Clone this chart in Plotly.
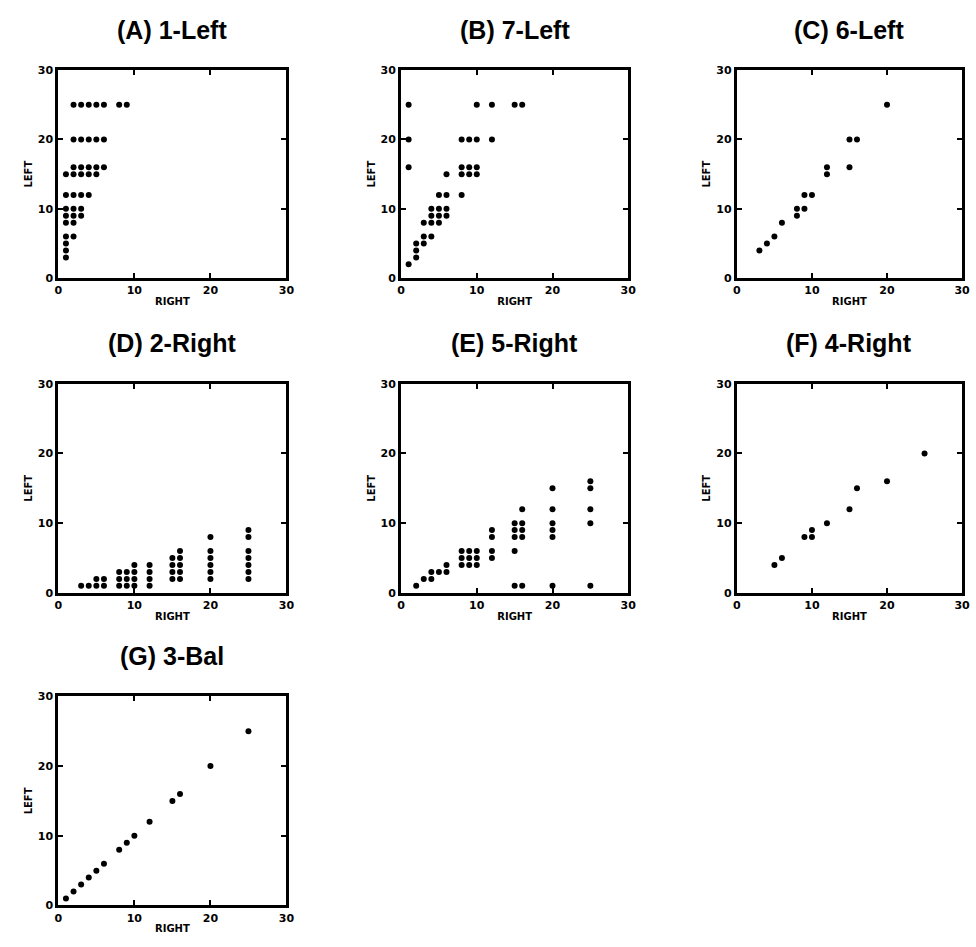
import plotly.graph_objects as go

# ---- data (RIGHT, LEFT) per panel ----
titles = ["(A) 1-Left", "(B) 7-Left", "(C) 6-Left", "(D) 2-Right",
          "(E) 5-Right", "(F) 4-Right", "(G) 3-Bal"]

right_A = [2, 3, 4, 5, 6, 8, 9,  2, 3, 4, 5, 6,  2, 3, 4, 5, 6,  1, 2, 3, 4, 5,
           1, 2, 3, 4,  1, 2, 3,  1, 2, 3,  1, 2,  1, 2,  1, 1, 1]
left_A = [25, 25, 25, 25, 25, 25, 25,  20, 20, 20, 20, 20,  16, 16, 16, 16, 16,
          15, 15, 15, 15, 15,  12, 12, 12, 12,  10, 10, 10,  9, 9, 9,  8, 8,
          6, 6,  5, 4, 3]

right_B = [1, 1, 1, 1, 2, 2, 2, 3, 3, 3, 4, 4, 4, 4, 5, 5, 5, 5, 6, 6, 6, 6,
           8, 8, 8, 8, 9, 9, 9, 10, 10, 10, 10, 12, 12, 15, 16]
left_B = [25, 20, 16, 2, 3, 4, 5, 8, 6, 5, 10, 9, 8, 6, 12, 10, 9, 8, 15, 12, 10, 9,
          20, 16, 15, 12, 20, 16, 15, 25, 20, 16, 15, 25, 20, 25, 25]

right_C = [3, 4, 5, 6, 8, 8, 9, 9, 10, 12, 12, 15, 16, 15, 20]
left_C = [4, 5, 6, 8, 10, 9, 12, 10, 12, 16, 15, 20, 20, 16, 25]

right_D = [3, 4, 5, 6, 5, 6, 8, 8, 8, 9, 9, 9, 10, 10, 10, 10, 12, 12, 12, 12,
           15, 15, 15, 15, 16, 16, 16, 16, 16, 20, 20, 20, 20, 20, 20,
           25, 25, 25, 25, 25, 25, 25]
left_D = [1, 1, 1, 1, 2, 2, 1, 2, 3, 1, 2, 3, 1, 2, 3, 4, 1, 2, 3, 4,
          2, 3, 4, 5, 2, 3, 4, 5, 6, 2, 3, 4, 5, 6, 8,
          2, 3, 4, 5, 6, 8, 9]

right_E = [2, 3, 4, 4, 5, 6, 6, 8, 8, 8, 9, 9, 9, 10, 10, 10, 12, 12, 12, 12,
           15, 15, 15, 15, 15, 16, 16, 16, 16, 16, 20, 20, 20, 20, 20, 20,
           25, 25, 25, 25, 25]
left_E = [1, 2, 2, 3, 3, 3, 4, 4, 5, 6, 4, 5, 6, 4, 5, 6, 5, 6, 8, 9,
          1, 6, 8, 9, 10, 1, 8, 9, 10, 12, 1, 8, 9, 10, 12, 15,
          1, 10, 12, 15, 16]

right_F = [5, 6, 9, 10, 10, 12, 15, 16, 20, 25]
left_F = [4, 5, 8, 8, 9, 10, 12, 15, 16, 20]

right_G = [1, 2, 3, 4, 5, 6, 8, 9, 10, 12, 15, 16, 20, 25]
left_G = [1, 2, 3, 4, 5, 6, 8, 9, 10, 12, 15, 16, 20, 25]

tick_vals = [0, 10, 20, 30]
tick_text = ["0", "10", "20", "30"]

panels = [(right_A, left_A), (right_B, left_B), (right_C, left_C),
          (right_D, left_D), (right_E, left_E), (right_F, left_F),
          (right_G, left_G)]

# ---- layout geometry (pixels) ----
W, H = 976, 947
cols = [(55, 286), (402, 632), (742, 970)]
rows = [(65, 276), (383, 595), (700, 912)]
pos = [(0, 0), (0, 1), (0, 2), (1, 0), (1, 1), (1, 2), (2, 0)]

fig = go.Figure()
layout = dict(width=W, height=H, margin=dict(l=0, r=0, t=0, b=0),
              paper_bgcolor="white", plot_bgcolor="white", showlegend=False,
              annotations=[])

tick_font = dict(family="DejaVu Sans", size=11, color="black", weight="bold")
lab_font = dict(family="DejaVu Sans", size=10, color="black", weight="bold")

for i, ((xs, ys), (r, c)) in enumerate(zip(panels, pos)):
    n = "" if i == 0 else str(i + 1)
    fig.add_trace(go.Scatter(x=xs, y=ys, mode="markers",
                             marker=dict(size=6, color="black"),
                             xaxis="x" + n, yaxis="y" + n))
    x0, x1 = cols[c]
    y0, y1 = rows[r]
    common = dict(range=[0, 30], tickvals=tick_vals, ticktext=tick_text,
                  ticks="inside", ticklen=5, tickwidth=2, tickcolor="black",
                  showline=True, linewidth=3, linecolor="black", mirror="ticks",
                  showgrid=False, zeroline=False, tickfont=tick_font,
                  fixedrange=True)
    layout["xaxis" + n] = dict(common, domain=[x0 / W, x1 / W],
                               anchor="y" + n,
                               title=dict(text="RIGHT", font=lab_font, standoff=2))
    layout["yaxis" + n] = dict(common, domain=[1 - y1 / H, 1 - y0 / H],
                               anchor="x" + n,
                               title=dict(text="LEFT", font=lab_font, standoff=4))
    layout["annotations"].append(dict(
        text=titles[i], x=(x0 + x1) / 2 / W, y=1 - (y0 - 41) / H,
        xref="paper", yref="paper", xanchor="center", yanchor="middle",
        showarrow=False,
        font=dict(family="Liberation Sans", size=25, color="black", weight="bold")))

fig.update_layout(**layout)
fig.write_html("out.html")
